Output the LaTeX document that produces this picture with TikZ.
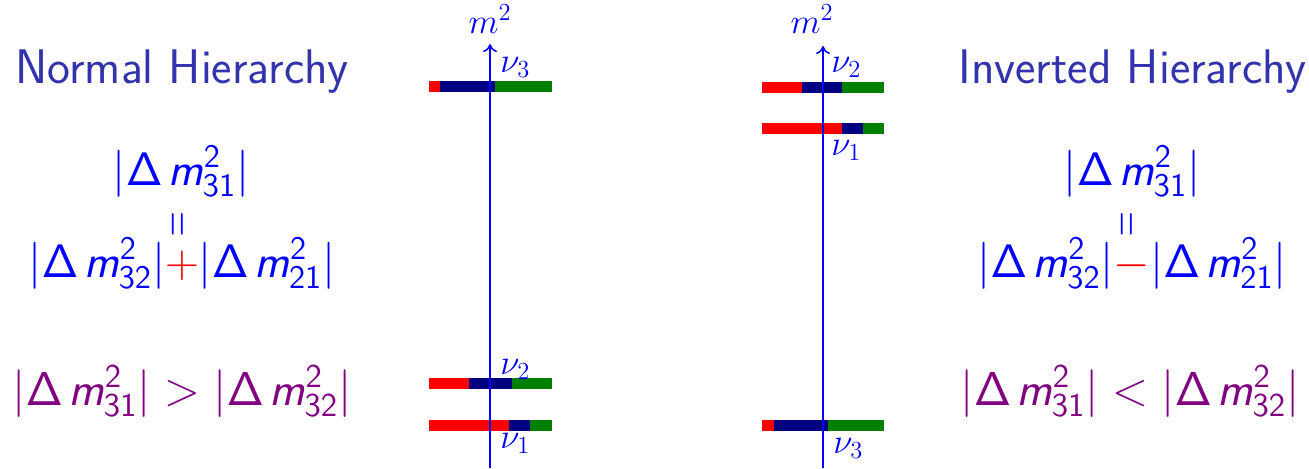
\RequirePackage{fix-cm}
\documentclass[tikz,border=0pt]{standalone}
\usetikzlibrary{arrows.meta}
\DeclareSymbolFont{sfop}{OT1}{cmss}{m}{n}
\DeclareMathSymbol{\sDelta}{\mathalpha}{sfop}{"01}
\DeclareMathAlphabet{\mathsfit}{OT1}{cmss}{m}{sl}
\DeclareMathAlphabet{\mathsfup}{OT1}{cmss}{m}{n}
\newcommand{\dm}[1]{|\sDelta\mkern2mu\mathsfit{m}^{\mathsfup{2}}_{\mathsfup{#1}}|}
\newcommand{\vequal}{\rotatebox{90}{\scalebox{1}[1.5]{$=$}}}
\definecolor{tcol}{rgb}{0.2,0.2,0.68}
\definecolor{pur}{rgb}{0.5,0,0.5}
\definecolor{navy}{rgb}{0,0,0.5}
\definecolor{dgreen}{rgb}{0,0.5,0}
\newcommand{\hbarr}[5]{%
  \fill[red] (#2,#1-5.5) rectangle (#3,#1+5.5);
  \fill[navy] (#3,#1-5.5) rectangle (#4,#1+5.5);
  \fill[dgreen] (#4,#1-5.5) rectangle (#5,#1+5.5);}
\begin{document}
\begin{tikzpicture}[x=0.5pt,y=-0.5pt,
  axis/.style={blue,line width=0.75pt,-{To[length=4pt,width=7pt]}},
  lab/.style={blue,font=\fontsize{17.5}{21}\selectfont,inner sep=0pt,anchor=base west},
  ttl/.style={tcol,font=\sffamily\fontsize{24.3}{28}\selectfont,inner sep=0pt,anchor=base west},
  eq/.style={blue,font=\fontsize{23.5}{28}\selectfont,inner sep=0pt,anchor=base},
  veq/.style={blue,font=\fontsize{17}{20}\selectfont,inner sep=0pt,anchor=center},
  ineq/.style={pur,font=\fontsize{23.8}{28}\selectfont,inner sep=0pt,anchor=base}]
\useasboundingbox (0,0) rectangle (1309,468);
% bars, normal hierarchy
\hbarr{86}{429}{440}{495}{552}
\hbarr{383}{429}{469}{512}{552}
\hbarr{425}{429}{509}{530}{552}
% bars, inverted hierarchy
\hbarr{87}{762}{802}{842}{884}
\hbarr{128}{762}{842}{863}{884}
\hbarr{425}{762}{774}{828}{884}
% axes
\coordinate (l0) at (490,468);
\coordinate (l1) at (490,44);
\coordinate (r0) at (823,468);
\coordinate (r1) at (823,46);
\draw[axis] (l0) -- (l1);
\draw[axis] (r0) -- (r1);
\node[lab,anchor=base] (lm) at (490,33) {$m^2$};
\node[lab,anchor=base] (rm) at (812,33) {$m^2$};
\node[lab] (ln3) at (500,72) {$\nu_3$};
\node[lab] (ln2) at (500,374) {$\nu_2$};
\node[lab] (ln1) at (500,448) {$\nu_1$};
\node[lab] (rn2) at (831,72) {$\nu_2$};
\node[lab] (rn1) at (831,155) {$\nu_1$};
\node[lab] (rn3) at (833,453) {$\nu_3$};
% titles
\node[ttl] (nh) at (15,83) {Normal Hierarchy};
\node[ttl] (ih) at (958,83) {Inverted Hierarchy};
% equations
\node[eq] (le1) at (181,185) {$\dm{31}$};
\node[veq] (le2) at (181,224) {\vequal};
\node[eq] (le3) at (182,277) {$\dm{32}{\color{red}+}\dm{21}$};
\node[eq] (re1) at (1132,185) {$\dm{31}$};
\node[veq] (re2) at (1130,224) {\vequal};
\node[eq] (re3) at (1132,277) {$\dm{32}{\color{red}-}\dm{21}$};
\node[ineq] (li) at (182,405) {$\dm{31} > \dm{32}$};
\node[ineq] (ri) at (1130,405) {$\dm{31} < \dm{32}$};
\end{tikzpicture}
\end{document}
